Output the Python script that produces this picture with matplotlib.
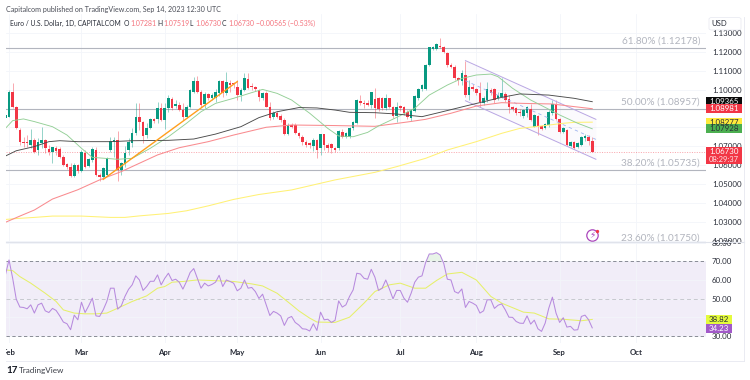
import numpy as np
import matplotlib
matplotlib.use("Agg")
import matplotlib.pyplot as plt
from matplotlib.patches import Rectangle, FancyBboxPatch
from matplotlib.lines import Line2D
from matplotlib.transforms import Bbox, TransformedBbox, IdentityTransform

plt.rcParams['font.family'] = ['Lato', 'DejaVu Sans']

# daily candles, first one is the half hidden bar before Feb
opens = [1.0848,1.0857,1.0989,1.0910,1.0786,1.0725,1.0725,1.0707,1.0734,1.0681,
         1.0716,1.0734,1.0686,1.0668,1.0690,1.0684,1.0642,1.0605,1.0589,1.0544,
         1.0602,1.0572,1.0663,1.0596,1.0628,1.0681,1.0549,1.0540,1.0549,1.0681,
         1.0725,1.0734,1.0575,1.0607,1.0681,1.0716,1.0769,1.0853,1.0830,1.0760,
         1.0795,1.0843,1.0843,1.0904,1.0839,1.0901,1.0948,1.0915,1.0918,1.0892,
         1.0857,1.0910,1.0985,1.1047,1.0989,1.0922,1.0975,1.0954,1.0954,1.0980,
         1.1045,1.0980,1.1036,1.1036,1.1015,1.0971,1.0998,1.1054,1.1019,1.1012,
         1.0998,1.0957,1.0980,1.0910,1.0853,1.0874,1.0860,1.0839,1.0765,1.0813,
         1.0813,1.0769,1.0751,1.0725,1.0716,1.0704,1.0734,1.0690,1.0763,1.0707,
         1.0712,1.0690,1.0690,1.0778,1.0751,1.0751,1.0795,1.0825,1.0941,1.0931,
         1.0927,1.0918,1.0948,1.0954,1.0954,1.0901,1.0954,1.0907,1.0861,1.0914,
         1.0907,1.0884,1.0849,1.0889,1.0954,1.1002,1.1002,1.1130,1.1213,1.1215,
         1.1232,1.1227,1.1195,1.1130,1.1121,1.1060,1.1047,1.1077,1.0972,1.1016,
         1.1002,1.0981,1.0931,1.0945,1.0998,1.1002,1.0954,1.0963,1.0977,1.0949,
         1.0907,1.0901,1.0884,1.0861,1.0875,1.0896,1.0805,1.0861,1.0808,1.0796,
         1.0813,1.0875,1.0924,1.0843,1.0775,1.0787,1.0703,1.0725,1.0696,1.0708,
         1.0743,1.0752,1.0728]
closes = [1.0866,1.0989,1.0910,1.0795,1.0725,1.0720,1.0716,1.0734,1.0672,1.0725,
          1.0734,1.0690,1.0672,1.0695,1.0677,1.0646,1.0602,1.0593,1.0544,1.0602,
          1.0572,1.0672,1.0593,1.0633,1.0684,1.0549,1.0540,1.0584,1.0637,1.0728,
          1.0734,1.0575,1.0610,1.0663,1.0725,1.0769,1.0857,1.0830,1.0755,1.0795,
          1.0843,1.0834,1.0904,1.0839,1.0901,1.0954,1.0901,1.0924,1.0892,1.0857,
          1.0910,1.0998,1.1047,1.0989,1.0918,1.0975,1.0954,1.0971,1.0989,1.1045,
          1.0980,1.1042,1.1024,1.1027,1.0971,1.0998,1.1059,1.1006,1.1012,1.1001,
          1.0962,1.0980,1.0910,1.0848,1.0874,1.0857,1.0839,1.0765,1.0813,1.0804,
          1.0769,1.0755,1.0725,1.0707,1.0707,1.0734,1.0681,1.0763,1.0707,1.0690,
          1.0690,1.0681,1.0781,1.0751,1.0769,1.0795,1.0830,1.0945,1.0931,1.0922,
          1.0917,1.0985,1.0901,1.0896,1.0901,1.0954,1.0910,1.0861,1.0910,1.0901,
          1.0875,1.0854,1.0893,1.0967,1.1002,1.1025,1.1130,1.1223,1.1223,1.1241,
          1.1227,1.1201,1.1130,1.1121,1.1060,1.1051,1.1086,1.0972,1.1016,1.1002,
          1.0981,1.0937,1.0954,1.1002,1.0981,1.0945,1.0972,1.0981,1.0945,1.0907,
          1.0898,1.0879,1.0875,1.0893,1.0907,1.0840,1.0866,1.0808,1.0792,1.0819,
          1.0884,1.0924,1.0843,1.0775,1.0796,1.0708,1.0725,1.0690,1.0720,1.0752,
          1.0755,1.0731,1.0673]
highs = [1.0874,1.0998,1.1033,1.0915,1.0795,1.0751,1.0760,1.0790,1.0742,1.0742,
         1.0804,1.0737,1.0707,1.0698,1.0702,1.0695,1.0654,1.0614,1.0610,1.0610,
         1.0607,1.0681,1.0681,1.0637,1.0695,1.0695,1.0558,1.0589,1.0642,1.0751,
         1.0748,1.0783,1.0619,1.0702,1.0742,1.0795,1.0927,1.0931,1.0836,1.0822,
         1.0848,1.0850,1.0936,1.0927,1.0927,1.0971,1.0962,1.0945,1.0936,1.0927,
         1.0918,1.1002,1.1068,1.1073,1.0998,1.0989,1.0984,1.0980,1.1002,1.1050,
         1.1050,1.1094,1.1050,1.1042,1.1050,1.1010,1.1089,1.1086,1.1035,1.1020,
         1.1001,1.0989,1.0994,1.0932,1.0889,1.0888,1.0870,1.0848,1.0822,1.0826,
         1.0822,1.0778,1.0758,1.0734,1.0725,1.0742,1.0738,1.0767,1.0767,1.0716,
         1.0720,1.0698,1.0786,1.0790,1.0778,1.0804,1.0835,1.0950,1.0971,1.0945,
         1.0945,1.0989,1.1006,1.0960,1.0960,1.0975,1.0958,1.0912,1.0937,1.0920,
         1.0914,1.0893,1.0896,1.0972,1.1007,1.1030,1.1135,1.1226,1.1228,1.1248,
         1.1275,1.1232,1.1200,1.1140,1.1130,1.1068,1.1104,1.1153,1.1051,1.1030,
         1.1010,1.1042,1.0965,1.1042,1.1007,1.1007,1.0985,1.1060,1.0985,1.0970,
         1.0915,1.0907,1.0895,1.0900,1.0914,1.0924,1.0870,1.0866,1.0815,1.0825,
         1.0890,1.0945,1.0945,1.0849,1.0800,1.0790,1.0731,1.0731,1.0725,1.0757,
         1.0765,1.0760,1.0752]
lows = [1.0843,1.0853,1.0905,1.0790,1.0707,1.0698,1.0695,1.0690,1.0663,1.0654,
        1.0690,1.0663,1.0654,1.0614,1.0654,1.0637,1.0596,1.0579,1.0536,1.0536,
        1.0558,1.0566,1.0584,1.0589,1.0619,1.0544,1.0519,1.0531,1.0545,1.0672,
        1.0646,1.0519,1.0549,1.0593,1.0654,1.0698,1.0760,1.0786,1.0716,1.0742,
        1.0790,1.0826,1.0822,1.0836,1.0790,1.0883,1.0892,1.0901,1.0885,1.0839,
        1.0848,1.0901,1.0980,1.0980,1.0910,1.0901,1.0945,1.0945,1.0936,1.0966,
        1.0962,1.0971,1.0989,1.1006,1.0945,1.0941,1.0994,1.1001,1.1000,1.0992,
        1.0941,1.0945,1.0906,1.0839,1.0845,1.0848,1.0830,1.0760,1.0760,1.0795,
        1.0765,1.0745,1.0707,1.0695,1.0690,1.0677,1.0637,1.0655,1.0681,1.0672,
        1.0667,1.0672,1.0681,1.0742,1.0742,1.0742,1.0786,1.0820,1.0918,1.0901,
        1.0912,1.0901,1.0848,1.0885,1.0890,1.0893,1.0905,1.0852,1.0831,1.0889,
        1.0866,1.0845,1.0836,1.0880,1.0945,1.0995,1.0998,1.1125,1.1208,1.1209,
        1.1218,1.1192,1.1120,1.1112,1.1050,1.1025,1.1025,1.0963,1.0945,1.0990,
        1.0970,1.0910,1.0920,1.0937,1.0970,1.0928,1.0945,1.0954,1.0937,1.0875,
        1.0885,1.0866,1.0860,1.0850,1.0857,1.0836,1.0800,1.0761,1.0785,1.0790,
        1.0805,1.0866,1.0840,1.0769,1.0770,1.0703,1.0696,1.0685,1.0690,1.0703,
        1.0730,1.0710,1.0673]
bar_idx = np.arange(-1, len(opens) - 1)

black_x = [-1,2,7,11,14,19,28,34,44,51,57,64,69,74,80,85,90,94,101,107,114,119,126,131,136,141,149,156,161]
black_y = [1.0649,1.0677,1.0699,1.0725,1.0730,1.0725,1.0725,1.0730,1.0732,1.0739,1.0765,1.0804,1.0852,1.0883,1.0905,1.0903,1.0892,1.0880,1.0878,1.0871,1.0857,1.0880,1.0913,1.0936,1.0959,1.0977,1.0971,1.0954,1.0936]
red_x = [-1,3,7,12,19,25,31,36,41,47,55,62,71,78,90,101,110,115,122,129,136,142,150,156,161]
red_y = [1.0299,1.0332,1.0364,1.0422,1.0471,1.0523,1.0567,1.0611,1.0655,1.0693,1.0725,1.0760,1.0801,1.0813,1.0810,1.0806,1.0829,1.0843,1.0875,1.0913,1.0931,1.0927,1.0924,1.0910,1.0899]
yellow_x = [-1,2,7,12,20,28,32,36,44,49,55,62,69,78,90,101,107,115,121,129,136,141,147,153,156,161]
yellow_y = [1.0314,1.0319,1.0325,1.0332,1.0332,1.0325,1.0325,1.0333,1.0346,1.0360,1.0386,1.0420,1.0446,1.0470,1.0523,1.0563,1.0593,1.0637,1.0681,1.0725,1.0769,1.0795,1.0808,1.0822,1.0827,1.0828]
green_x = [-1,1,4,7,12,16,20,23,30,34,39,44,49,53,57,62,67,70,74,78,83,88,91,95,99,102,107,112,116,121,125,129,133,135,139,144,148,152,157,161]
green_y = [1.0795,1.0836,1.0845,1.0831,1.0804,1.0760,1.0690,1.0642,1.0632,1.0637,1.0690,1.0751,1.0822,1.0883,1.0927,1.0954,1.0984,1.1001,1.0980,1.0945,1.0875,1.0795,1.0755,1.0751,1.0774,1.0808,1.0853,1.0901,1.0971,1.1024,1.1059,1.1077,1.1082,1.1068,1.1007,1.0945,1.0906,1.0866,1.0822,1.0793]

orange_x = [26, 63]
orange_y = [1.0526, 1.1042]
chan_x = [126, 162]
chan_top = [1.1153, 1.0843]
chan_mid = [1.1047, 1.0737]
chan_bot = [1.0941, 1.0632]

fib_levels = [1.12178, 1.08957, 1.05735, 1.01750]
fib_names = ["61.80% (1.12178)", "50.00% (1.08957)", "38.20% (1.05735)", "23.60% (1.01750)"]

rsi = [62.7,70.7,61,49.7,45.5,45.3,44.6,46.7,42.3,46.7,
       47.6,43.5,42.6,44.8,43.7,40.8,37.5,36.6,33.4,41.2,
       38.7,48.1,42.6,46.2,50.3,40.8,40.5,44,48.5,55.6,
       55.6,44.4,46.2,51.2,55,57.4,62.2,60,54.4,56.5,
       59.3,59.3,62.7,57.4,60.9,63.6,59.7,60.4,58.8,55.1,
       59.2,64,66.1,60.9,55.6,58.3,56.8,57.6,58.8,62.5,
       56.5,60,59.2,58.3,54.2,55.6,60,55.6,56,53.8,
       50.1,52.4,46.7,41,43.2,42.3,40.8,35.7,39.6,40.5,
       37.3,35.9,33.9,33.7,32.7,36.6,33,42.8,38.7,39,
       37.3,38.4,48.8,45.5,46.7,51.2,54.7,63.6,63.2,60.9,
       60.4,65.7,61.5,54.4,55.6,60,55.2,49.9,54.4,54.4,
       50.3,48.1,52.9,58.8,61.5,62.2,69.3,73.9,73.9,74.6,
       73.4,68.9,60.4,60,53.8,52.9,55.2,45.3,48.5,47.6,
       46.4,42.3,43.5,49.4,49.4,44.8,46.5,47.2,44,40.1,
       40,37.8,36.9,36.8,40.8,36.4,38.5,33.9,32.5,36.9,
       44.9,50.8,42.3,37.3,39.8,34.8,35.2,33.2,33.4,40.5,
       41.2,38.7,34.4]
rsi_ma_x = [-1,1,3,6,10,13,15,18,21,24,27,30,34,38,41,43,45,48,52,56,62,67,70,74,78,80,83,85,90,94,98,101,105,108,112,115,118,121,125,129,133,136,142,145,149,153,158,161]
rsi_ma_y = [65.4,65,61.8,58.3,52.9,48.5,44,42.3,41.9,41.9,42.3,44.9,48.5,51.5,55.6,56.5,58.8,59.2,60,59.7,59.2,57.9,56.8,52.9,46.7,43.5,39.6,37.5,37.3,40.1,47.6,53.8,57.4,58.3,55.6,55.6,59.7,63.2,64.1,60,51.2,47.6,42.8,42.3,39.2,39,38.2,38.9]

month_pos = [0, 20, 43, 63, 86, 108, 129, 152, 173]
month_names = ["Feb", "Mar", "Apr", "May", "Jun", "Jul", "Aug", "Sep", "Oct"]
price_ticks = [1.02, 1.03, 1.04, 1.05, 1.06, 1.07, 1.08, 1.09, 1.10, 1.11, 1.12, 1.13]
rsi_ticks = [30, 40, 50, 60, 70, 80]
# these sit under the value tags in the reference
price_hidden = [1.08, 1.09]
rsi_hidden = [40]

W, H = 750, 380
GREEN, RED = "#089981", "#f23645"
GRID = "#f3f5fa"
TXT = "#2a2e39"

def px_axes(left, top, right, bottom):
    return fig.add_axes([left / W, 1 - bottom / H, (right - left) / W, (bottom - top) / H])

fig = plt.figure(figsize=(7.5, 3.8), dpi=100, facecolor="white")
ax = px_axes(5.5, 14, 706, 242)
ar = px_axes(5.5, 242, 706, 343)

xlim = (-0.97, 192.4)
ax.set_xlim(xlim)
ar.set_xlim(xlim)
ax.set_ylim(1.01951, 1.13992)
ar.set_ylim(26.3, 80.3)

for a in (ax, ar):
    for s in a.spines.values():
        s.set_visible(False)
    a.set_xticks(month_pos)
    a.grid(True, color=GRID, lw=0.6)
    a.set_axisbelow(True)
    a.yaxis.tick_right()
    a.tick_params(length=0, labelsize=5.7, labelcolor=TXT, pad=4.2)

ax.set_yticks(price_ticks)
ax.set_yticklabels(["" if t in price_hidden else "%.5f" % t for t in price_ticks])
ax.tick_params(axis="x", labelbottom=False)
ar.set_yticks(rsi_ticks)
ar.set_yticklabels(["" if t in rsi_hidden else "%.2f" % t for t in rsi_ticks])
ar.set_xticklabels(month_names, fontweight="bold", fontsize=5.6, color=TXT)
ar.tick_params(axis="x", pad=4.5)
clip = TransformedBbox(Bbox([[5.5, 0], [750, 380]]), IdentityTransform())
for lab in ar.get_xticklabels():
    lab.set_clip_box(clip)
    lab.set_clip_on(True)

# fib levels
for lev, name in zip(fib_levels, fib_names):
    ax.axhline(lev, color="#b2b5be", lw=0.8, zorder=1.5)
    ax.annotate(name, xy=(1, lev), xycoords=ax.get_yaxis_transform(), xytext=(-4.3, 5.4),
                textcoords="offset points", ha="right", va="center", fontsize=7.2,
                color="#b2b5be", annotation_clip=False, zorder=3)

# candles
opens_a, closes_a = np.array(opens), np.array(closes)
cols = [GREEN if c >= o else RED for o, c in zip(opens, closes)]
ax.vlines(bar_idx, lows, highs, colors=cols, lw=0.6, alpha=0.5, zorder=2)
ax.bar(bar_idx, np.abs(closes_a - opens_a), bottom=np.minimum(opens_a, closes_a), width=0.72,
       color=cols, linewidth=0, zorder=2.2)

# channel
ax.fill_between(chan_x, chan_bot, chan_top, color="#b39ddb", alpha=0.05, lw=0, zorder=1.2)
ax.plot(chan_x, chan_top, color="#b9a6e3", lw=0.7, zorder=2.4)
ax.plot(chan_x, chan_bot, color="#b9a6e3", lw=0.7, zorder=2.4)
ax.plot(chan_x, chan_mid, color="#9fb4ee", lw=0.6, ls=(0, (4, 4)), zorder=2.4)

# moving averages
ax.plot(yellow_x, yellow_y, color="#fff176", lw=0.75, zorder=2.5)
ax.plot(red_x, red_y, color="#f98b8f", lw=0.75, zorder=2.5)
ax.plot(green_x, green_y, color="#93cf96", lw=0.65, zorder=2.5)
ax.plot(black_x, black_y, color="#4a4a4a", lw=0.65, zorder=2.6)
ax.plot(orange_x, orange_y, color="#ff9f1c", lw=1.0, zorder=2.7)

# last price
ax.axhline(closes[-1], color=RED, lw=0.5, ls=(0, (1.5, 2)), alpha=0.6, zorder=1.6)

# lightning badge
ax.plot([161], [1.0232], marker="o", ms=8.2, mfc="white", mec="#ab47bc", mew=0.9, zorder=4, clip_on=False)
ax.text(161, 1.0232, "\u26a1", fontsize=6.5, color="#ab47bc", ha="center", va="center", zorder=5,
        family=["DejaVu Sans"])
ax.plot([162.2], [1.0253], marker="o", ms=2.4, color=RED, mew=0, zorder=6)

# rsi pane
ar.axhspan(30, 70, color="#7e57c2", alpha=0.1, lw=0, zorder=0.5)
ar.axhline(70, color="#787b86", lw=0.6, ls=(0, (4, 3)), zorder=1.5)
ar.axhline(50, color="#c7c8cf", lw=0.7, ls=(0, (4, 3)), zorder=1.5)
ar.axhline(30, color="#787b86", lw=0.6, ls=(0, (4, 3)), zorder=1.5)
rsi_a = np.array(rsi)
ar.fill_between(bar_idx, 70, rsi_a, where=rsi_a > 70, color="#66bb6a", alpha=0.15, lw=0, interpolate=True)
ar.plot(rsi_ma_x, rsi_ma_y, color="#e6f06a", lw=0.75, zorder=2.5)
ar.plot(bar_idx, rsi, color="#b78ade", lw=0.75, zorder=2.6)

# price labels on the scale
def tag(a, val, text, bg, fg, height=9, width=36, second=None):
    y_mid = H - a.transData.transform((0, val))[1]
    top = y_mid - 4.5
    fig.add_artist(Rectangle((706 / W, 1 - (top + height) / H), width / W, height / H,
                             transform=fig.transFigure, facecolor=bg, edgecolor="none", zorder=6))
    xc = (706 + width / 2) / W
    fig.text(xc, 1 - (top + 4.5) / H, text, color=fg, fontsize=5.7, ha="center", va="center", zorder=7)
    if second:
        fig.text(xc, 1 - (top + 12.4) / H, second, color=fg, fontsize=5.5, ha="center", va="center", zorder=7, alpha=0.85)

tag(ax, 1.09365, "1.09365", "#0b0b0b", "white")
tag(ax, 1.08981, "1.08981", RED, "white")
tag(ax, 1.08277, "1.08277", "#ffeb3b", TXT)
tag(ax, 1.07928, "1.07928", "#4caf50", TXT)
tag(ax, closes[-1], "1.06730", RED, "white", height=17, second="08:29:37")
tag(ar, 38.82, "38.82", "#e4fb3c", TXT, width=26)
tag(ar, 34.23, "34.23", "#a259c9", "white", width=26)

# frame
frame = "#e6e8f0"
fig.add_artist(Line2D([5.5 / W, 744 / W], [1 - 242.3 / H] * 2, color="#e0e3eb", lw=0.8))
fig.add_artist(Line2D([5.5 / W, 744 / W], [1 - 360.5 / H] * 2, color=frame, lw=0.6))
fig.add_artist(Line2D([744 / W, 744 / W], [1 - 17 / H, 1 - 360.5 / H], color=frame, lw=0.6))

usd = FancyBboxPatch((709 / W, 1 - 30 / H), 32 / W, 12.5 / H, boxstyle="round,pad=0,rounding_size=0.004",
                     transform=fig.transFigure, facecolor="white", edgecolor="#e6e8f0", lw=0.5, zorder=6)
fig.add_artist(usd)
fig.text(719 / W, 1 - 23.7 / H, "USD", fontsize=5.6, color=TXT, ha="center", va="center", zorder=7)

# header
def head(x, y, s, color="#4a4d57", size=5.1, **kw):
    fig.text(x / W, 1 - y / H, s, color=color, fontsize=size, va="center", ha="left", **kw)

head(6, 9, "Capitalcom published on TradingView.com, Sep 14, 2023 12:30 UTC")
head(10, 23.5, "Euro / U.S. Dollar, 1D, CAPITALCOM", color=TXT, size=4.85)
hdr_red = "#f4727c"
for x, k, v in [(124, "O", "1.07281"), (157, "H", "1.07519"), (189, "L", "1.06730"), (222, "C", "1.06730")]:
    head(x, 23.5, k, color=TXT, size=4.85)
    head(x + 6, 23.5, v, color=hdr_red, size=5.0)
head(256, 23.5, "\u22120.00565 (\u22120.53%)", color=hdr_red, size=5.0)

# footer logo
head(6, 370.5, "17", color="#131722", size=7, fontweight="bold")
head(19, 370.5, "TradingView", color="#3b3e47", size=5.9)

fig.savefig("out.png", dpi=100)
